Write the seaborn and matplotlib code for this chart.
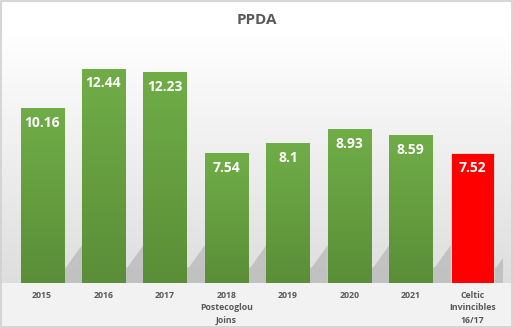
import matplotlib
matplotlib.use("Agg")
import matplotlib.pyplot as plt
import seaborn as sns
import numpy as np
import pandas as pd
from matplotlib.patches import Polygon, Rectangle

categories = ["2015", "2016", "2017", "2018\nPostecoglou\nJoins", "2019", "2020", "2021",
              "Celtic\nInvincibles\n16/17"]
values = [10.16, 12.44, 12.23, 7.54, 8.1, 8.93, 8.59, 7.52]
groups = ["Celtic", "Celtic", "Celtic", "Celtic", "Celtic", "Celtic", "Celtic", "Invincibles"]
title = "PPDA"

df = pd.DataFrame({"cat": categories, "val": values, "grp": groups})

sns.set_theme(style="white")
plt.rcParams['font.family'] = ['Open Sans', 'DejaVu Sans']

fig = plt.figure(figsize=(5.13, 3.28), dpi=100)

# background gradient across whole figure
bg = fig.add_axes([0, 0, 1, 1], zorder=-10)
h = 328
col = np.ones((h, 1, 3))
for i in range(h):
    y = i
    if y < 283:
        t = max(0, (y - 30) / 253)
        v = 1.0 - 0.13 * t
    else:
        v = 0.95
    col[i, 0, :] = v
bg.imshow(col, aspect="auto", extent=[0, 1, 0, 1])
bg.add_patch(Rectangle((0.002, 0.003), 0.996, 0.994, fill=False, edgecolor="#d0d0d0", lw=1.2,
                       transform=bg.transAxes))
bg.set_axis_off()

ax = fig.add_axes([11.3 / 513, (328 - 283) / 328, (503 - 11.3) / 513, (283 - 41) / 328])
ax.patch.set_alpha(0)
sns.barplot(data=df, x="cat", y="val", hue="grp", palette={"Celtic": "#64a03e", "Invincibles": "#ff0000"},
            dodge=False, width=0.7, ax=ax, legend=False, edgecolor="#e4efe0", linewidth=0.6, zorder=3,
            saturation=1)
ax.set_ylim(0, 14.05)
ax.set_xlim(-0.5, len(categories) - 0.5)

# gradient on green bars and shadows
for idx, (p, g) in enumerate(zip(ax.patches, groups)):
    x0, w, hgt = p.get_x(), p.get_width(), p.get_height()
    if g == "Celtic":
        grad = np.linspace(0, 1, 100).reshape(-1, 1)
        top = np.array([0x70, 0xad, 0x47]) / 255
        bot = np.array([0x5a, 0x8e, 0x38]) / 255
        img = top + (bot - top) * grad[..., None]
        im = ax.imshow(img, aspect="auto", extent=[x0, x0 + w, 0, hgt], zorder=3.5)
        im.set_clip_path(p)
    sx = x0 + w
    shadow = Polygon([[sx, 0], [sx + 0.3, 0], [sx + 0.3, 2.2], [sx + 0.04, 0.9], [sx, 0.9]],
                     closed=True, facecolor="#b8b8b8", edgecolor="none", zorder=2, alpha=0.75)
    ax.add_patch(shadow)
    ax.text(x0 + w / 2, hgt - 0.45, f"{values[idx]:g}", ha="center", va="top",
            color="white", fontsize=10, fontweight="bold", zorder=5)

ax.set_ylabel("")
ax.set_xlabel("")
ax.set_yticks([])
ax.tick_params(axis="x", length=0, pad=6)
for lab in ax.get_xticklabels():
    lab.set_fontsize(6.3)
    lab.set_fontweight("bold")
    lab.set_color("#595959")
    lab.set_linespacing(1.45)
    lab.set_verticalalignment("top")
for s in ax.spines.values():
    s.set_visible(False)

fig.text(0.5, 1 - 20 / 328, title, ha="center", va="center", fontsize=11, fontweight="bold", color="#595959")

fig.savefig("out.png", dpi=100)
